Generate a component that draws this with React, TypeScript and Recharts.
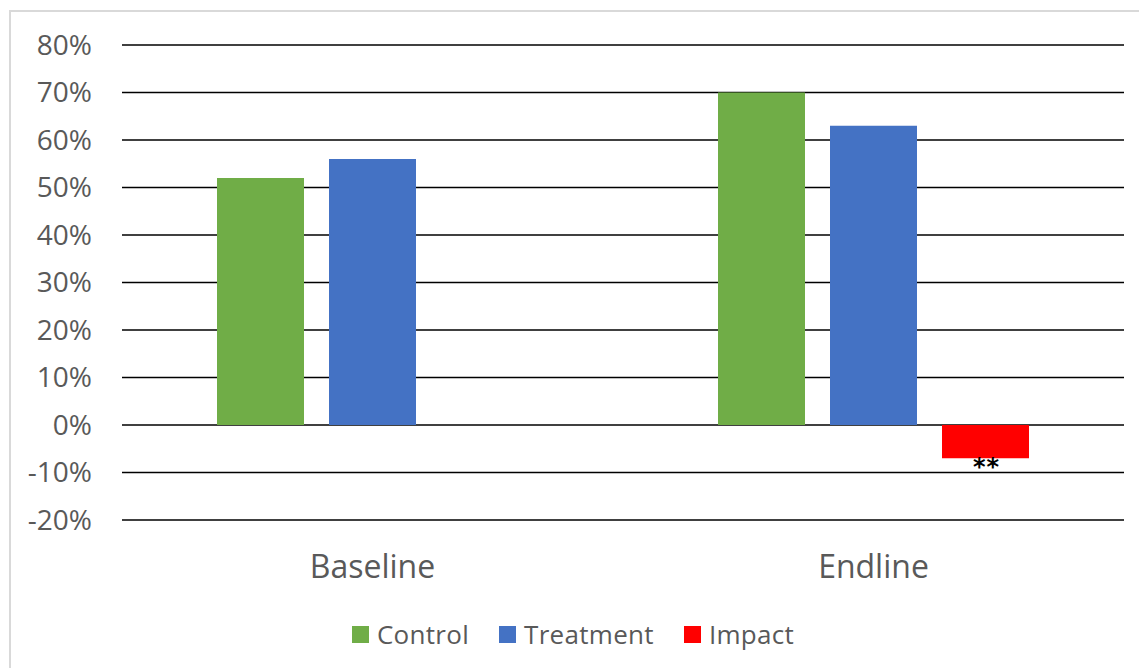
import React from "react";
import { BarChart, Bar, XAxis, YAxis, CartesianGrid, Legend, LabelList } from "recharts";

// Survey rounds
const categories = ["Baseline", "Endline"];
// Share of respondents (%)
const controlValues = [52, 70];
const treatmentValues = [56, 63];
const impactValues: (number | null)[] = [null, -7];
// Significance stars for the impact estimate
const impactStars = ["", "**"];
const yTicks = [-20, -10, 0, 10, 20, 30, 40, 50, 60, 70, 80];

const seriesInfo = [
  { key: "control", name: "Control", color: "#70AD47" },
  { key: "treatment", name: "Treatment", color: "#4472C4" },
  { key: "impact", name: "Impact", color: "#FF0000" },
];

const data = categories.map((c, i) => ({
  category: c,
  control: controlValues[i],
  treatment: treatmentValues[i],
  impact: impactValues[i],
  stars: impactStars[i],
}));

const FONT = "'Open Sans', 'DejaVu Sans', sans-serif";
const TEXT = "#595959";

const LegendContent = () => (
  <div
    style={{
      display: "flex",
      justifyContent: "center",
      alignItems: "center",
      fontFamily: FONT,
      fontSize: 26,
      color: TEXT,
      paddingLeft: 22,
      height: 68,
    }}
  >
    {seriesInfo.map((s, i) => (
      <div key={s.key} style={{ display: "flex", alignItems: "center", marginLeft: i === 0 ? 0 : 30 }}>
        <span style={{ width: 17, height: 17, background: s.color, display: "inline-block", marginRight: 8 }} />
        <span style={{ letterSpacing: 0.3 }}>{s.name}</span>
      </div>
    ))}
  </div>
);

const StarsLabel = (props: any) => {
  const { x, y, width, height, value } = props;
  if (!value) return null;
  const bottom = Math.max(y, y + height);
  return (
    <text
      x={x + width / 2 + 1}
      y={bottom - 1}
      textAnchor="middle"
      dominantBaseline="hanging"
      fontFamily="'DejaVu Sans', sans-serif"
      fontWeight="bold"
      fontSize={24}
      letterSpacing={1}
      fill="#000"
    >
      {value}
    </text>
  );
};

const CategoryTick = (props: any) => {
  const { x, y, payload } = props;
  return (
    <text x={x} y={y + 37} textAnchor="middle" dominantBaseline="central" fontFamily={FONT} fontSize={32} fill={TEXT}>
      {payload.value}
    </text>
  );
};

export default function App() {
  return (
    <div style={{ position: "fixed", left: 0, top: 0, width: 1139, height: 668, overflow: "hidden", background: "#fff" }}>
      <div
        style={{
          position: "absolute",
          left: 9,
          top: 10,
          width: 1200,
          height: 720,
          border: "2px solid #d9d9d9",
        }}
      />
      <div style={{ position: "absolute", left: 0, top: 0 }}>
        <BarChart
          width={1139}
          height={668}
          data={data}
          margin={{ top: 45, right: 15, left: 0, bottom: 0 }}
          barGap={25}
          barCategoryGap={95}
        >
          <CartesianGrid vertical={false} stroke="#000" strokeWidth={1.6} />
          <XAxis
            dataKey="category"
            axisLine={false}
            tickLine={false}
            height={80}
            tick={<CategoryTick />}
            interval={0}
          />
          <YAxis
            domain={[-20, 80]}
            ticks={yTicks}
            width={122}
            axisLine={false}
            tickLine={false}
            tickSize={0}
            tickMargin={30}
            tickFormatter={(v: number) => `${v}%`}
            tick={{ fontFamily: FONT, fontSize: 28, fill: TEXT }}
            interval={0}
          />
          <Legend verticalAlign="bottom" height={68} content={<LegendContent />} />
          <Bar dataKey="control" name="Control" fill="#70AD47" isAnimationActive={false} />
          <Bar dataKey="treatment" name="Treatment" fill="#4472C4" isAnimationActive={false} />
          <Bar dataKey="impact" name="Impact" fill="#FF0000" isAnimationActive={false}>
            <LabelList dataKey="stars" content={<StarsLabel />} />
          </Bar>
        </BarChart>
      </div>
    </div>
  );
}
